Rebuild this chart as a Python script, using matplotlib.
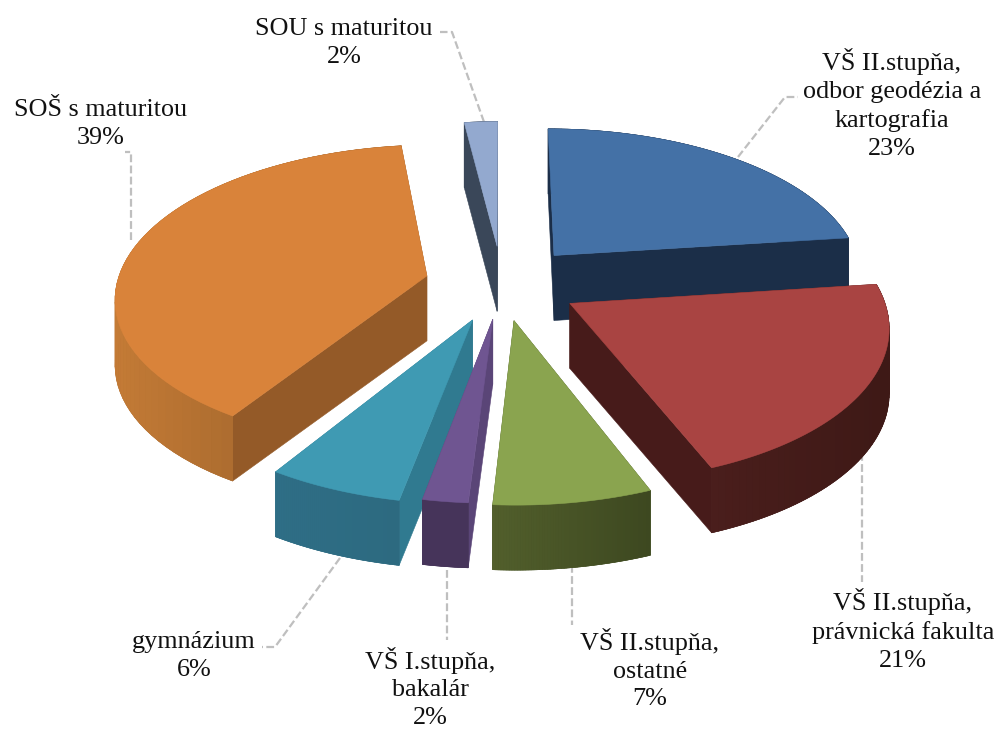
import numpy as np
import matplotlib
matplotlib.use('Agg')
import matplotlib.pyplot as plt
from matplotlib.colors import to_rgb

# DATA (clockwise from 12 o'clock)
labels = ['VŠ II.stupňa,\nodbor geodézia a\nkartografia', 'VŠ II.stupňa,\nprávnická fakulta',
          'VŠ II.stupňa,\nostatné', 'VŠ I.stupňa,\nbakalár', 'gymnázium', 'SOŠ s maturitou', 'SOU s maturitou']
values = [23, 21, 7, 2, 6, 39, 2]

# pie layout, in pixels of the 1002x731 picture
cx, cy = 502, 284
rx, ry = 310, 150
persp = 0.13
depth = 65
explode = [0.26, 0.25, 0.24, 0.23, 0.25, 0.25, 0.26]

top_colors = ['#4471A6', '#A94442', '#8AA44F', '#6F5591', '#3F9AB3', '#D9833A', '#93A9CF']
cut_colors = ['#1B2E48', '#471B1A', '#4B5829', '#5A4577', '#307A90', '#945A28', '#3A4759']
wall_left = ['#1B2E48', '#4A1E1C', '#525F2C', '#46345A', '#2E6E86', '#C47B36', '#3A4759']
wall_right = ['#1B2E48', '#3E1916', '#3D4820', '#46345A', '#2D6A80', '#8F5A27', '#3A4759']

label_pos = [(892, 104), (903, 630), (650, 669), (430, 688), (194, 656), (101, 124), (344, 43)]
leaders = [[(738, 157), (785, 97), (798, 97)],
           [(862, 453), (862, 582)],
           [(572, 565), (572, 625)],
           [(447, 570), (447, 640)],
           [(340, 558), (275, 647), (262, 647)],
           [(131, 240), (131, 152), (125, 152)],
           [(484, 122), (452, 32), (440, 32)]]


def project(theta, r, mid, e, lower=False):
    u = r * np.sin(theta) + e * np.sin(mid)
    v = r * np.cos(theta) + e * np.cos(mid)
    s = 1 / (1 + persp * v)
    x = cx + rx * u * s
    y = cy - ry * v * s
    if lower:
        y = y + depth
    return x, y


def fill(ax, pts, color, z):
    pts = np.array(pts)
    ax.fill(pts[:, 0], pts[:, 1], facecolor=color, edgecolor=color, linewidth=0.4, zorder=z)


def draw_slice(ax, i, t0, t1, z):
    mid = (t0 + t1) / 2
    e = explode[i]
    thetas = np.linspace(t0, t1, 60)
    apex = project(0, 0, mid, e)
    apex_low = project(0, 0, mid, e, True)
    top = [project(t, 1, mid, e) for t in thetas]
    low = [project(t, 1, mid, e, True) for t in thetas]

    # radial cut faces, the top face hides the ones turned away
    for a, b in [(top[0], low[0]), (top[-1], low[-1])]:
        fill(ax, [apex, a, b, apex_low], cut_colors[i], z)

    # outer wall: solid base, then strips for the shading
    c0, c1 = np.array(to_rgb(wall_left[i])), np.array(to_rgb(wall_right[i]))
    xs = [p[0] for p in top]
    fill(ax, top + low[::-1], (c0 + c1) / 2, z)
    for k in range(len(thetas) - 1):
        f = (xs[k] - min(xs)) / max(max(xs) - min(xs), 1)
        fill(ax, [top[k], top[k + 1], low[k + 1], low[k]], c0 + (c1 - c0) * f, z)
    fill(ax, [apex] + top, top_colors[i], z + 0.5)


fig = plt.figure(figsize=(10.02, 7.31), dpi=100)
ax = fig.add_axes([0, 0, 1, 1])
ax.set_xlim(0, 1002)
ax.set_ylim(731, 0)
ax.axis('off')

edges = np.cumsum([0] + values) / sum(values) * 2 * np.pi
# back to front
order = [6, 5, 0, 1, 4, 3, 2]
for z, i in enumerate(order):
    draw_slice(ax, i, edges[i], edges[i + 1], z + 2)

for pts in leaders:
    pts = np.array(pts)
    ax.plot(pts[:, 0], pts[:, 1], color='#BFBFBF', lw=1.6, ls=(0, (3.5, 1.5)), zorder=1)

for name, val, pos in zip(labels, values, label_pos):
    ax.text(pos[0], pos[1], '%s\n%d%%' % (name, val), ha='center', va='center', ma='center',
            family='Liberation Serif', fontsize=18.8, linespacing=1.33, color='#111111', zorder=20)

fig.savefig('out.png', dpi=100)
